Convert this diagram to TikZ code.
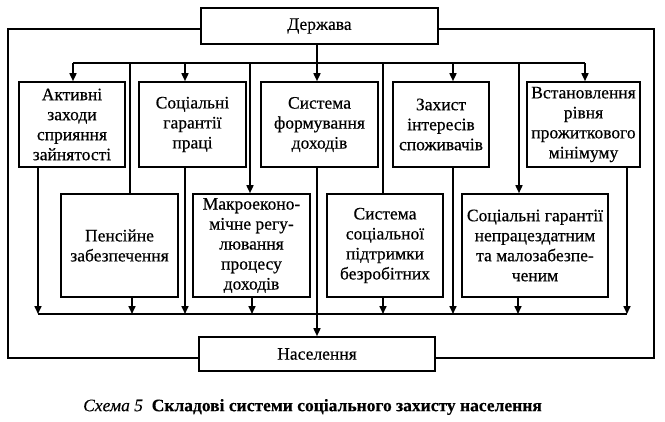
\documentclass[tikz,border=0pt]{standalone}
\usepackage{fontspec}
\setmainfont{Liberation Serif}
\newfontfamily\boxfont{Liberation Serif}[FakeBold=0.5]
\newfontfamily\capitfont{Liberation Serif Italic}[FakeBold=0.3]
\newfontfamily\capbfont{Liberation Serif Bold}[FakeBold=0.3]
\usetikzlibrary{arrows.meta}
\begin{document}
\begin{tikzpicture}[x=1pt,y=-1pt,line width=1.6pt,
  box/.style={draw,inner sep=0pt,align=center,font=\boxfont\fontsize{17.5}{20}\selectfont},
  toprow/.style={box,minimum height=85pt},
  botrow/.style={box,minimum height=103pt},
  arr/.style={-{Triangle[length=8pt,width=7pt]}}]
\useasboundingbox (0,0) rectangle (665,421);
% main boxes
\node[box,minimum width=237pt,minimum height=36pt] (d) at (319.5,26) {Держава};
\node[box,minimum width=236pt,minimum height=34pt] (n) at (317,354) {Населення};
% top row
\node[toprow,minimum width=106pt] (b1) at (72,124.5) {Активні\\заходи\\сприяння\\зайнятості};
\node[toprow,minimum width=107pt] (b2) at (192.5,124.5) {Соціальні\\гарантії\\праці};
\node[toprow,minimum width=117pt] (b3) at (319.5,124.5) {Система\\формування\\доходів};
\node[toprow,minimum width=96pt] (b4) at (441,124.5) {Захист\\інтересів\\споживачів};
\node[toprow,minimum width=113pt] (b5) at (583.5,124.5) {Встановлення\\рівня\\прожиткового\\мінімуму};
% bottom row
\node[botrow,minimum width=117pt] (b6) at (119.5,245.5) {Пенсійне\\забезпечення};
\node[botrow,minimum width=117pt] (b7) at (251.5,245.5) {Макроеконо-\\мічне регу-\\лювання\\процесу\\доходів};
\node[botrow,minimum width=116pt] (b8) at (385,245.5) {Система\\соціальної\\підтримки\\безробітних};
\node[botrow,minimum width=146pt] (b9) at (535,245.5) {Соціальні гарантії\\непрацездатним\\та малозабезпе-\\ченим};
% bus coordinates
\coordinate (t1) at (73,63);  \coordinate (t2) at (185,63);
\coordinate (t3) at (317,63); \coordinate (t4) at (453,63);
\coordinate (t5) at (585,63);
\coordinate (p6) at (130,63); \coordinate (p7) at (250,63);
\coordinate (p8) at (383,63); \coordinate (p9) at (519,63);
\coordinate (u1) at (38,314);  \coordinate (u2) at (185,314);
\coordinate (u4) at (453,314); \coordinate (u5) at (627,314);
\coordinate (u6) at (132,314); \coordinate (u7) at (252,314);
\coordinate (u8) at (383,314); \coordinate (u9) at (518,314);
\coordinate (ol) at (8,29); \coordinate (or) at (654,29);
\coordinate (ol2) at (8,358); \coordinate (or2) at (654,358);
% top bus
\draw (t1) -- (t5);
\draw[arr] (d.south -| t3) -- (b3.north -| t3);
\draw[arr] (t1) -- (b1.north -| t1);
\draw[arr] (t2) -- (b2.north -| t2);
\draw[arr] (t4) -- (b4.north -| t4);
\draw[arr] (t5) -- (b5.north -| t5);
\draw (p6) -- (b6.north -| p6);
\draw[arr] (p7) -- (b7.north -| p7);
\draw (p8) -- (b8.north -| p8);
\draw[arr] (p9) -- (b9.north -| p9);
% bottom bus
\draw (u1) -- (u5);
\draw[arr] (b1.south -| u1) -- (u1);
\draw[arr] (b2.south -| u2) -- (u2);
\draw[arr] (b3.south -| t3) -- (n.north -| t3);
\draw[arr] (b4.south -| u4) -- (u4);
\draw[arr] (b5.south -| u5) -- (u5);
\draw[arr] (b6.south -| u6) -- (u6);
\draw[arr] (b7.south -| u7) -- (u7);
\draw[arr] (b8.south -| u8) -- (u8);
\draw[arr] (b9.south -| u9) -- (u9);
% outer loop
\draw (d.west |- ol) -- (ol) -- (ol2) -- (n.west |- ol2);
\draw (d.east |- or) -- (or) -- (or2) -- (n.east |- or2);
% caption
\node[font=\fontsize{17.5}{20}\selectfont] (cap) at (312.5,407)
  {{\capitfont Схема 5}\ \ {\capbfont Складові системи соціального захисту населення}};
\end{tikzpicture}
\end{document}
